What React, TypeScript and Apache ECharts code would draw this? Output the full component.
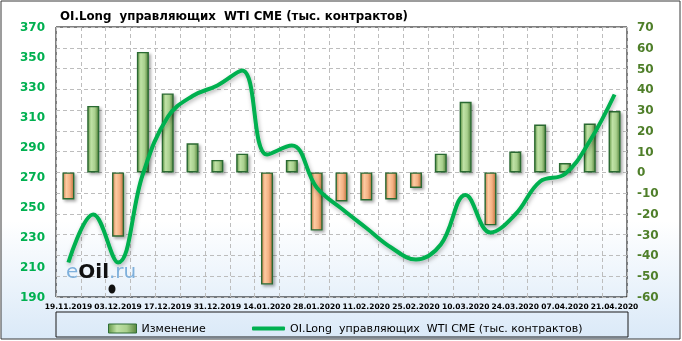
import React, { useEffect, useRef } from "react";
import * as echarts from "echarts";

const TITLE = "OI.Long  управляющих  WTI CME (тыс. контрактов)";
const BAR_NAME = "Изменение";
const LINE_NAME = "OI.Long  управляющих  WTI CME (тыс. контрактов)";

const categories = [
  "19.11.2019", "26.11.2019", "03.12.2019", "10.12.2019", "17.12.2019", "24.12.2019",
  "31.12.2019", "07.01.2020", "14.01.2020", "21.01.2020", "28.01.2020", "04.02.2020",
  "11.02.2020", "18.02.2020", "25.02.2020", "03.03.2020", "10.03.2020", "17.03.2020",
  "24.03.2020", "31.03.2020", "07.04.2020", "14.04.2020", "21.04.2020",
];

const changeValues = [
  -13, 32, -31, 58, 38, 14, 6, 9, -54, 6, -28, -14,
  -13.5, -13, -7.5, 9, 34, -25.5, 10, 23, 4.5, 23.5, 29.5,
];

const oiLongValues = [
  213, 245, 213, 272, 310, 324, 331, 341, 285, 291, 263, 249,
  236, 223, 215, 225, 258, 233, 245, 267, 272, 294, 325,
];

const leftAxisMin = 190;
const leftAxisMax = 370;
const leftAxisStep = 20;
const rightAxisMin = -60;
const rightAxisMax = 70;
const rightAxisStep = 10;

const FONT = "DejaVu Sans";

const greenFill = new echarts.graphic.LinearGradient(0, 0, 1, 0, [
  { offset: 0, color: "#679a4b" },
  { offset: 0.3, color: "#c0e2a6" },
  { offset: 0.65, color: "#a9d08e" },
  { offset: 1, color: "#5a8740" },
]);
const orangeFill = new echarts.graphic.LinearGradient(0, 0, 1, 0, [
  { offset: 0, color: "#cf8550" },
  { offset: 0.3, color: "#fdcba2" },
  { offset: 0.65, color: "#f4b183" },
  { offset: 1, color: "#c07240" },
]);

export default function App() {
  const ref = useRef<HTMLDivElement>(null);

  useEffect(() => {
    if (!ref.current) return;
    const chart = echarts.init(ref.current, null, { renderer: "svg" });

    const barData = changeValues.map((v) => ({
      value: v,
      itemStyle: { color: v >= 0 ? greenFill : orangeFill },
    }));

    chart.setOption({
      animation: false,
      backgroundColor: "transparent",
      graphic: [
        {
          type: "rect",
          z: -10,
          shape: { x: 1, y: 1, width: 679, height: 338 },
          style: {
            fill: new echarts.graphic.LinearGradient(0, 0, 0, 1, [
              { offset: 0, color: "#ffffff" },
              { offset: 0.65, color: "#ffffff" },
              { offset: 1, color: "#dae9f8" },
            ]),
            stroke: "#3a3a3a",
            lineWidth: 1,
          },
          silent: true,
        },
        {
          type: "rect",
          z: 1,
          shape: { x: 56, y: 312, width: 572, height: 25 },
          style: { fill: "transparent", stroke: "#1a1a1a", lineWidth: 1 },
          silent: true,
        },
        {
          type: "text",
          z: 5,
          left: 66,
          top: 261,
          style: {
            text: "{a|e}{b|Oil}{a|.ru}",
            rich: {
              a: { fontFamily: FONT, fontSize: 20, fontWeight: "normal", fill: "#7eb0dc" },
              b: { fontFamily: FONT, fontSize: 20, fontWeight: "bold", fill: "#111111" },
            },
          },
          silent: true,
        },
        {
          type: "ellipse",
          z: 5,
          shape: { cx: 112, cy: 289, rx: 3.5, ry: 4.5 },
          style: { fill: "#111111" },
          silent: true,
        },
      ],
      title: {
        text: TITLE,
        left: 55,
        top: 5,
        textStyle: { fontFamily: FONT, fontSize: 11.8, fontWeight: "bold", color: "#000000" },
      },
      legend: [
        {
          data: [{ name: BAR_NAME, icon: "rect" }],
          left: 103,
          top: 318,
          itemWidth: 28,
          itemHeight: 9,
          itemGap: 0,
          textStyle: { fontFamily: FONT, fontSize: 11, color: "#000000" },
          itemStyle: { borderColor: "#2e6e36", borderWidth: 1 },
        },
        {
          data: [{ name: LINE_NAME, icon: "roundRect" }],
          left: 247,
          top: 318,
          itemWidth: 33,
          itemHeight: 4,
          itemGap: 0,
          textStyle: { fontFamily: FONT, fontSize: 11, color: "#000000" },
        },
      ],
      grid: {
        left: 56,
        right: 55,
        top: 27,
        bottom: 44,
        show: true,
        borderColor: "#000000",
        borderWidth: 1,
        backgroundColor: "transparent",
      },
      xAxis: {
        type: "category",
        data: categories,
        boundaryGap: true,
        axisLine: { show: false },
        axisTick: { show: false },
        axisLabel: {
          interval: 1,
          margin: 5,
          fontFamily: FONT,
          fontSize: 7.5,
          fontWeight: "bold",
          color: "#000000",
        },
        splitLine: {
          show: true,
          interval: 0,
          lineStyle: { color: "#bdbdbd", type: [4, 3], width: 1 },
        },
      },
      yAxis: [
        {
          type: "value",
          position: "left",
          min: leftAxisMin,
          max: leftAxisMax,
          interval: leftAxisStep,
          axisLine: { show: false },
          axisTick: { show: false },
          splitLine: { show: false },
          axisLabel: {
            margin: 11,
            fontFamily: FONT,
            fontSize: 12,
            fontWeight: "bold",
            color: "#00b050",
          },
        },
        {
          type: "value",
          position: "right",
          min: rightAxisMin,
          max: rightAxisMax,
          interval: rightAxisStep,
          axisLine: { show: false },
          axisTick: { show: false },
          splitLine: {
            show: true,
            lineStyle: { color: "#bdbdbd", type: [4, 3], width: 1 },
          },
          axisLabel: {
            margin: 10,
            fontFamily: FONT,
            fontSize: 12,
            fontWeight: "bold",
            color: "#4f7f2a",
          },
        },
      ],
      series: [
        {
          name: BAR_NAME,
          type: "bar",
          yAxisIndex: 1,
          barWidth: 12,
          data: barData,
          itemStyle: {
            color: greenFill,
            borderColor: "#2b6a33",
            borderWidth: 1.4,
            shadowColor: "rgba(0,0,0,0.35)",
            shadowBlur: 3,
            shadowOffsetX: 2,
            shadowOffsetY: 2,
          },
          z: 2,
        },
        {
          name: LINE_NAME,
          type: "line",
          yAxisIndex: 0,
          data: oiLongValues,
          smooth: 0.4,
          symbol: "none",
          itemStyle: { color: "#00b050" },
          lineStyle: {
            color: "#00b050",
            width: 4,
            shadowColor: "rgba(0,0,0,0.3)",
            shadowBlur: 4,
            shadowOffsetX: 1,
            shadowOffsetY: 2,
          },
          z: 3,
        },
      ],
    });

    return () => chart.dispose();
  }, []);

  return (
    <div
      ref={ref}
      style={{ position: "fixed", left: 0, top: 0, width: 682, height: 341 }}
    />
  );
}
